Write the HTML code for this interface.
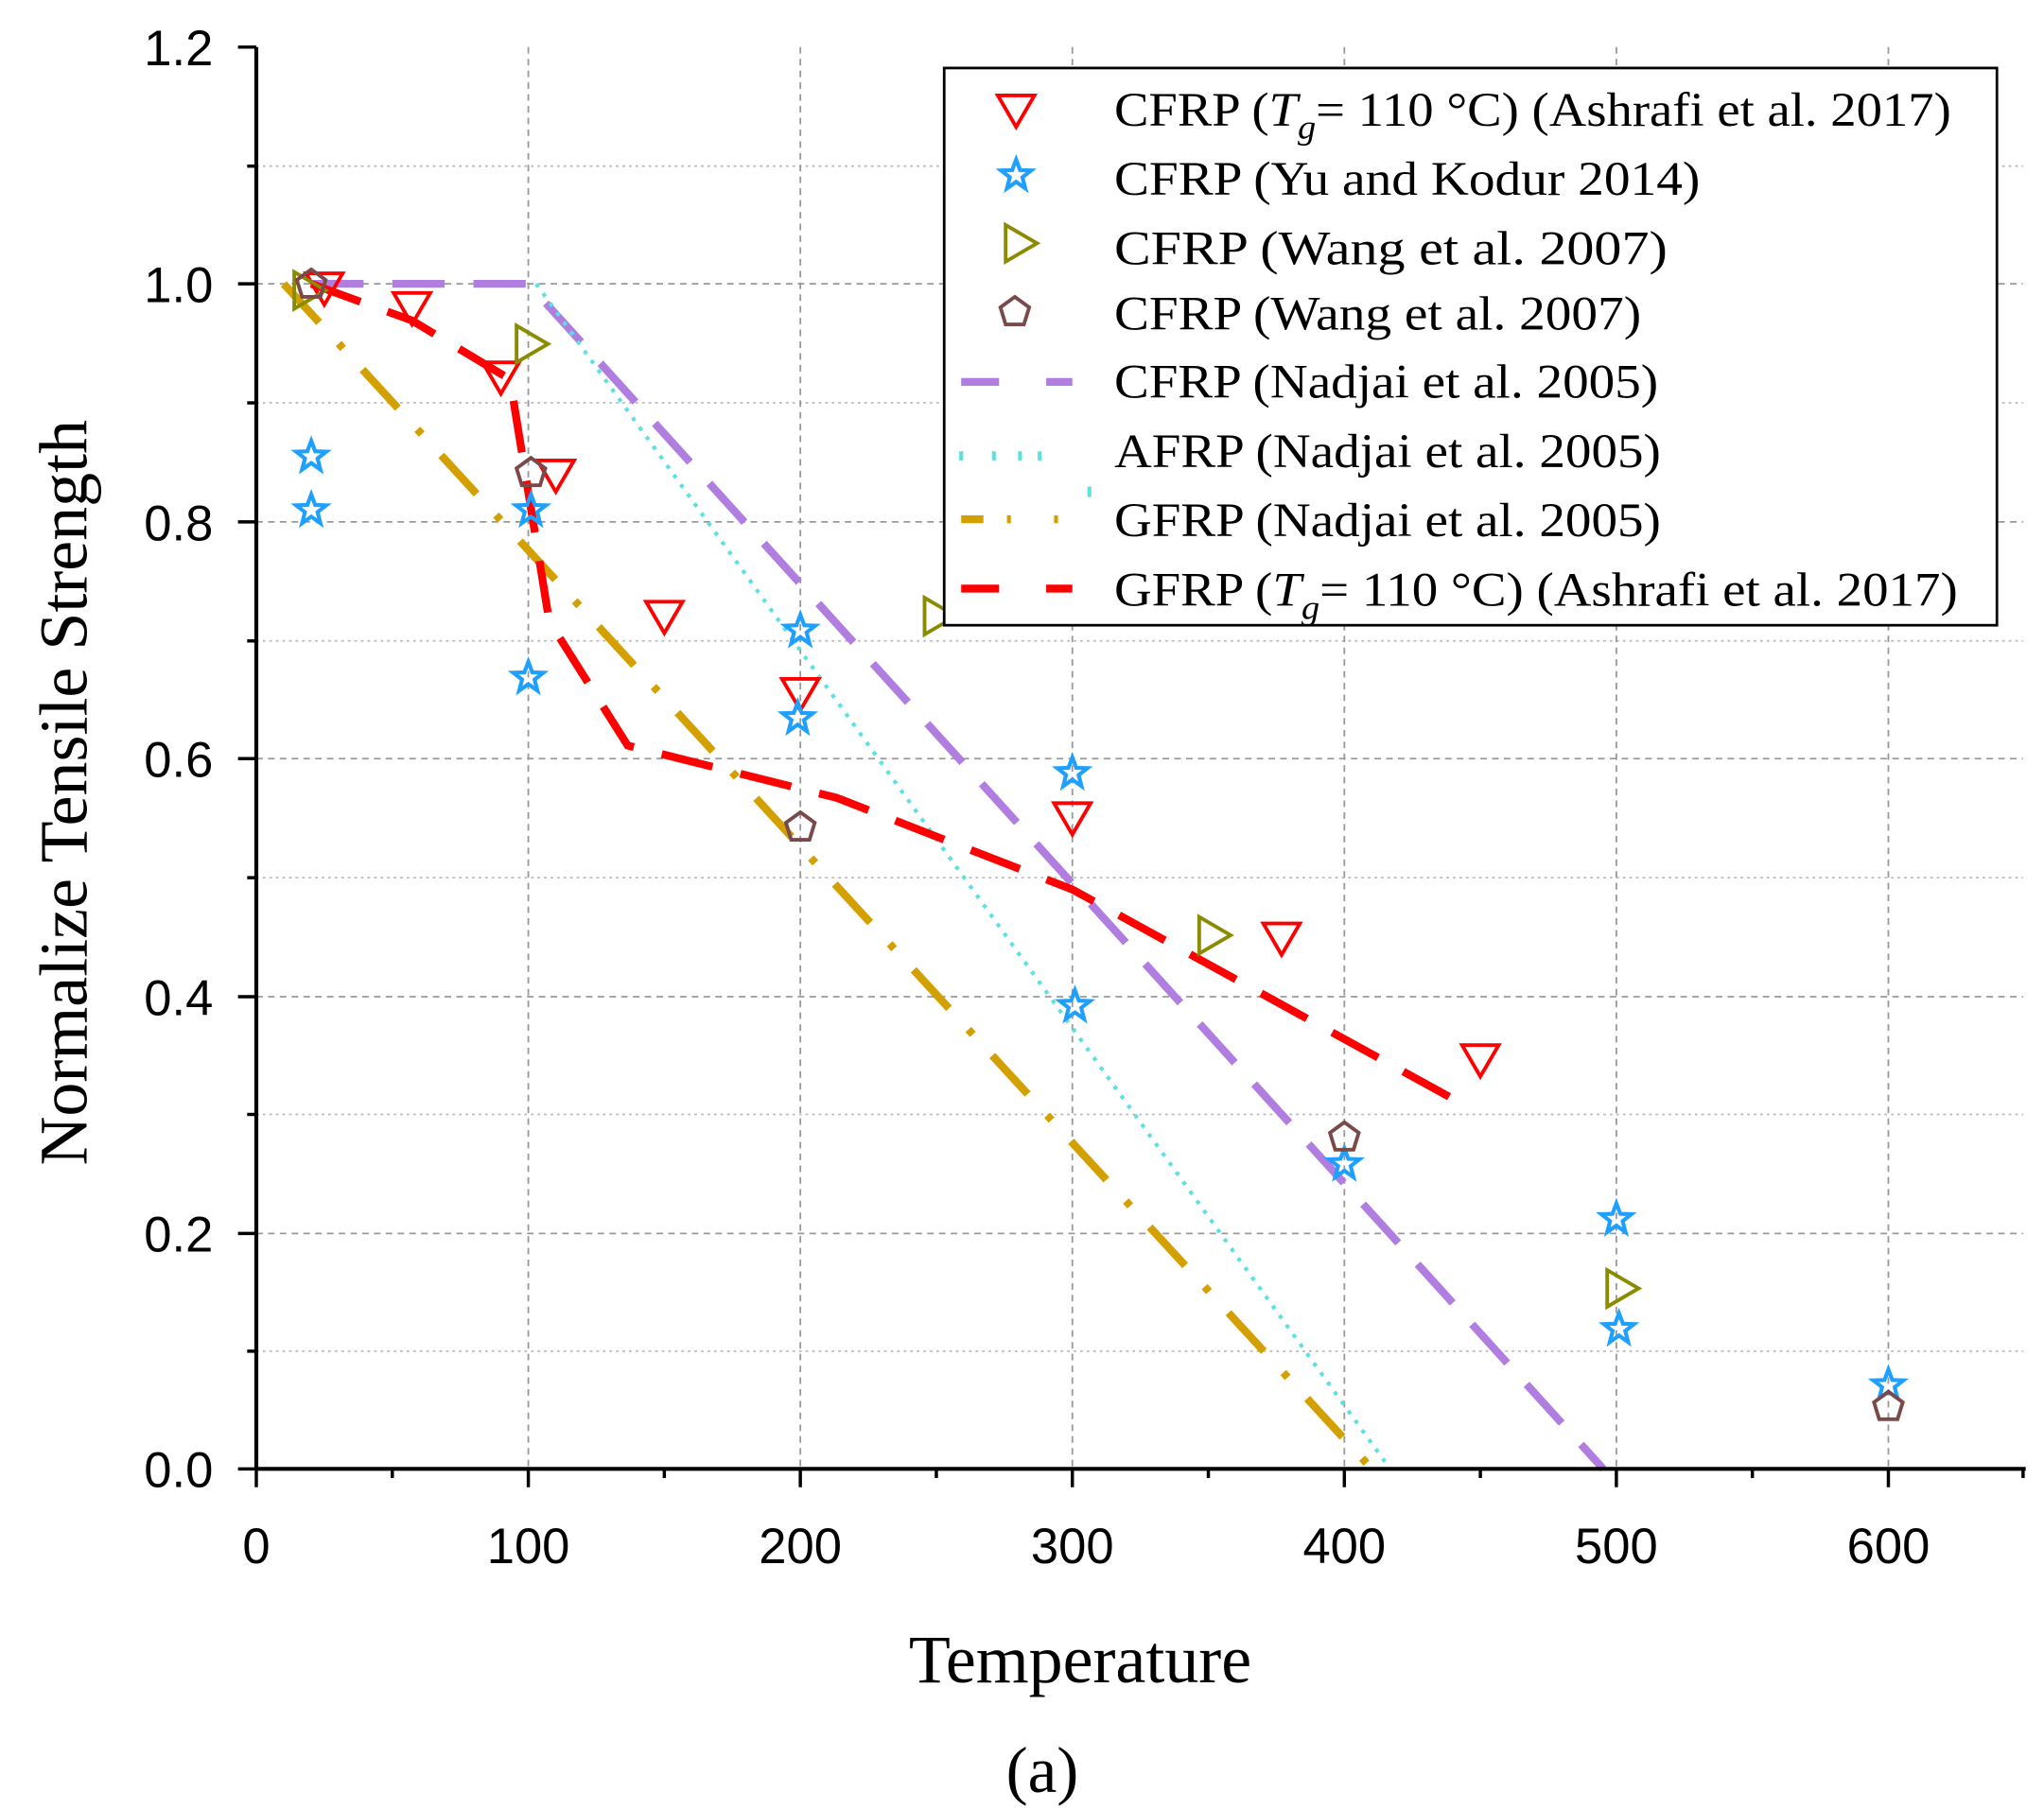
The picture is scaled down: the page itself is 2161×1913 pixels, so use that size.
<!DOCTYPE html>
<html><head><meta charset="utf-8"><style>html,body{margin:0;padding:0;background:#fff}svg{display:block}</style></head>
<body>
<svg width="2161" height="1913" viewBox="0 0 1563 1383" preserveAspectRatio="none" xmlns="http://www.w3.org/2000/svg">
<rect width="1563" height="1383" fill="#fff"/>
<g stroke="#999" stroke-width="1.3" fill="none">
<g stroke-dasharray="2,3" stroke="#bbb">
<line x1="196" y1="127" x2="1547" y2="127"/><line x1="196" y1="308" x2="1547" y2="308"/><line x1="196" y1="490" x2="1547" y2="490"/><line x1="196" y1="671" x2="1547" y2="671"/><line x1="196" y1="852" x2="1547" y2="852"/><line x1="196" y1="1033" x2="1547" y2="1033"/>
</g>
<g stroke-dasharray="5,4">
<line x1="196" y1="217" x2="1547" y2="217"/><line x1="196" y1="399" x2="1547" y2="399"/><line x1="196" y1="580" x2="1547" y2="580"/><line x1="196" y1="762" x2="1547" y2="762"/><line x1="196" y1="943" x2="1547" y2="943"/>
<line x1="404" y1="36" x2="404" y2="1123"/><line x1="612" y1="36" x2="612" y2="1123"/><line x1="820" y1="36" x2="820" y2="1123"/><line x1="1028" y1="36" x2="1028" y2="1123"/><line x1="1236" y1="36" x2="1236" y2="1123"/><line x1="1444" y1="36" x2="1444" y2="1123"/>
</g>
</g>
<!-- lines -->
<g fill="none">
<polyline points="238,217 404,217 1226,1123" stroke="#b07de0" stroke-width="6" stroke-dasharray="40,22"/>
<polyline points="410,217 1063,1123" stroke="#5ee0e0" stroke-width="3" stroke-dasharray="3,6"/>
<polyline points="217,217 1049,1123" stroke="#d4a000" stroke-width="6" stroke-dasharray="40,22,5,22"/>
<polyline points="238,217 315,245 390,290 420,475 480,570 560,590 640,610 820,680 1120,845" stroke="#f00" stroke-width="6" stroke-dasharray="40,22"/>
</g>
<defs>
<polygon id="tri" points="-14,-11 14,-11 0,13" fill="none" stroke="#f00" stroke-width="2.8"/>
<polygon id="star" points="0,-12 3,-4 11.5,-3.7 4.8,1.5 7,10 0,5 -7,10 -4.8,1.5 -11.5,-3.7 -3,-4" fill="none" stroke="#1fa0ff" stroke-width="3"/>
<polygon id="rt" points="-11,-14 13,0 -11,14" fill="none" stroke="#8b8b00" stroke-width="2.8"/>
<polygon id="pent" points="0,-11 11,-3 7,10 -7,10 -11,-3" fill="none" stroke="#7a4a4a" stroke-width="2.8"/>
</defs>
<g>
<use href="#tri" x="248" y="220"/><use href="#tri" x="315" y="235"/><use href="#tri" x="383" y="288"/><use href="#tri" x="425" y="363"/><use href="#tri" x="508" y="471"/><use href="#tri" x="612" y="530"/><use href="#tri" x="820" y="625"/><use href="#tri" x="980" y="717"/><use href="#tri" x="1132" y="810"/>
<use href="#star" x="238" y="349"/><use href="#star" x="238" y="390"/><use href="#star" x="406" y="390"/><use href="#star" x="404" y="518"/><use href="#star" x="612" y="482"/><use href="#star" x="610" y="549"/><use href="#star" x="820" y="591"/><use href="#star" x="822" y="769"/><use href="#star" x="1028" y="890"/><use href="#star" x="1236" y="932"/><use href="#star" x="1238" y="1016"/><use href="#star" x="1444" y="1059"/>
<use href="#rt" x="236" y="222"/><use href="#rt" x="406" y="263"/><use href="#rt" x="718" y="471"/><use href="#rt" x="928" y="715"/><use href="#rt" x="1240" y="985"/>
<use href="#pent" x="238" y="217"/><use href="#pent" x="406" y="361"/><use href="#pent" x="612" y="632"/><use href="#pent" x="1028" y="869"/><use href="#pent" x="1444" y="1075"/>
</g>
<!-- legend -->
<rect x="722" y="52" width="805" height="426" fill="#fff" stroke="#000" stroke-width="2"/>
<use href="#tri" x="777" y="84"/><use href="#star" x="777" y="134"/><use href="#rt" x="780" y="186"/><use href="#pent" x="776" y="238"/>
<g stroke-width="6"><line x1="735" y1="292" x2="764" y2="292" stroke="#b07de0"/><line x1="800" y1="292" x2="820" y2="292" stroke="#b07de0"/>
<line x1="735" y1="450" x2="764" y2="450" stroke="#f00"/><line x1="800" y1="450" x2="820" y2="450" stroke="#f00"/>
<line x1="735" y1="397" x2="752" y2="397" stroke="#d4a000"/><line x1="770" y1="397" x2="773" y2="397" stroke="#d4a000"/><line x1="806" y1="397" x2="809" y2="397" stroke="#d4a000"/></g>
<g stroke="#5ee0e0" stroke-width="3"><line x1="735" y1="345" x2="735" y2="352"/><line x1="760" y1="345" x2="760" y2="352"/><line x1="780" y1="345" x2="780" y2="352"/><line x1="795" y1="345" x2="795" y2="352"/><line x1="833" y1="372" x2="833" y2="380"/></g>
<g font-family="Liberation Serif, serif" font-size="37" fill="#000" lengthAdjust="spacingAndGlyphs">
<text x="852" y="96" textLength="640" lengthAdjust="spacingAndGlyphs">CFRP (<tspan font-style="italic">T</tspan><tspan font-style="italic" font-size="26" dy="10">g</tspan><tspan dy="-10">= 110 °C) (Ashrafi et al. 2017)</tspan></text>
<text x="852" y="149" textLength="448" lengthAdjust="spacingAndGlyphs">CFRP (Yu and Kodur 2014)</text>
<text x="852" y="202" textLength="423" lengthAdjust="spacingAndGlyphs">CFRP (Wang et al. 2007)</text>
<text x="852" y="252" textLength="403" lengthAdjust="spacingAndGlyphs">CFRP (Wang et al. 2007)</text>
<text x="852" y="304" textLength="416" lengthAdjust="spacingAndGlyphs">CFRP (Nadjai et al. 2005)</text>
<text x="852" y="357" textLength="418" lengthAdjust="spacingAndGlyphs">AFRP (Nadjai et al. 2005)</text>
<text x="852" y="410" textLength="418" lengthAdjust="spacingAndGlyphs">GFRP (Nadjai et al. 2005)</text>
<text x="852" y="463" textLength="645" lengthAdjust="spacingAndGlyphs">GFRP (<tspan font-style="italic">T</tspan><tspan font-style="italic" font-size="26" dy="10">g</tspan><tspan dy="-10">= 110 °C) (Ashrafi et al. 2017)</tspan></text>
</g>
<!-- axes -->
<g stroke="#000" stroke-width="3" fill="none">
<line x1="196" y1="36" x2="196" y2="1124"/><line x1="195" y1="1123" x2="1549" y2="1123"/>
</g>
<g stroke="#000" stroke-width="2.5">
<line x1="182" y1="36" x2="196" y2="36"/><line x1="182" y1="217" x2="196" y2="217"/><line x1="182" y1="399" x2="196" y2="399"/><line x1="182" y1="580" x2="196" y2="580"/><line x1="182" y1="762" x2="196" y2="762"/><line x1="182" y1="943" x2="196" y2="943"/><line x1="182" y1="1123" x2="196" y2="1123"/>
<line x1="189" y1="127" x2="196" y2="127"/><line x1="189" y1="308" x2="196" y2="308"/><line x1="189" y1="490" x2="196" y2="490"/><line x1="189" y1="671" x2="196" y2="671"/><line x1="189" y1="852" x2="196" y2="852"/><line x1="189" y1="1033" x2="196" y2="1033"/>
<line x1="196" y1="1123" x2="196" y2="1137"/><line x1="404" y1="1123" x2="404" y2="1137"/><line x1="612" y1="1123" x2="612" y2="1137"/><line x1="820" y1="1123" x2="820" y2="1137"/><line x1="1028" y1="1123" x2="1028" y2="1137"/><line x1="1236" y1="1123" x2="1236" y2="1137"/><line x1="1444" y1="1123" x2="1444" y2="1137"/>
<line x1="300" y1="1123" x2="300" y2="1130"/><line x1="508" y1="1123" x2="508" y2="1130"/><line x1="716" y1="1123" x2="716" y2="1130"/><line x1="924" y1="1123" x2="924" y2="1130"/><line x1="1132" y1="1123" x2="1132" y2="1130"/><line x1="1340" y1="1123" x2="1340" y2="1130"/><line x1="1547" y1="1123" x2="1547" y2="1130"/>
</g>
<g font-family="Liberation Sans, sans-serif" font-size="38" fill="#000" text-anchor="end">
<text x="163" y="50">1.2</text><text x="163" y="231">1.0</text><text x="163" y="413">0.8</text><text x="163" y="594">0.6</text><text x="163" y="776">0.4</text><text x="163" y="957">0.2</text><text x="163" y="1137">0.0</text>
</g>
<g font-family="Liberation Sans, sans-serif" font-size="38" fill="#000" text-anchor="middle">
<text x="196" y="1195">0</text><text x="404" y="1195">100</text><text x="612" y="1195">200</text><text x="820" y="1195">300</text><text x="1028" y="1195">400</text><text x="1236" y="1195">500</text><text x="1444" y="1195">600</text>
</g>
<g font-family="Liberation Serif, serif" fill="#000" text-anchor="middle">
<text x="826" y="1286" font-size="52">Temperature</text>
<text x="0" y="0" font-size="52" transform="translate(66,606) rotate(-90)">Normalize Tensile Strength</text>
<text x="797" y="1370" font-size="50">(a)</text>
</g>
</svg>
</body></html>
